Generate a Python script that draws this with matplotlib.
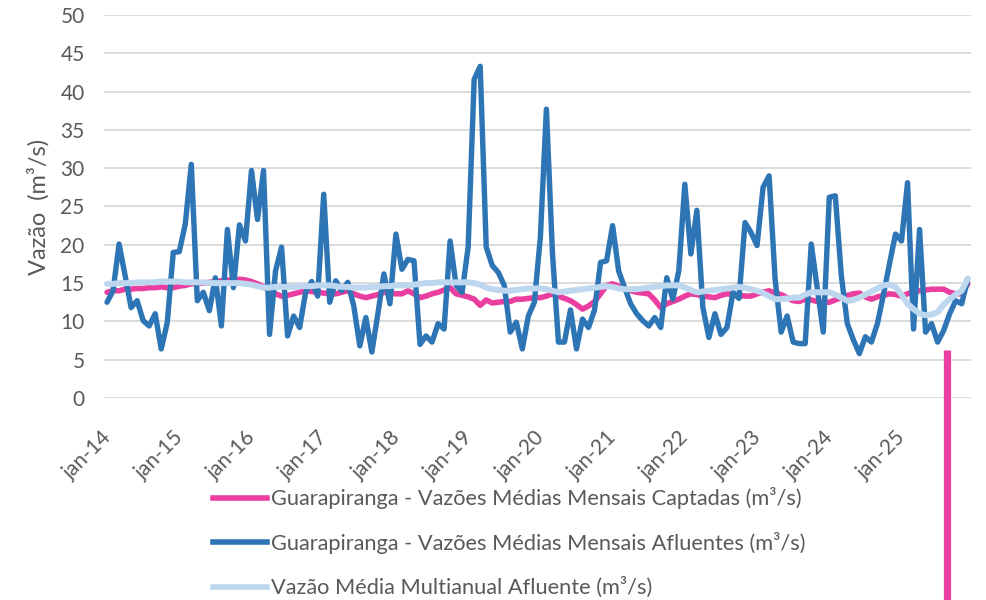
import matplotlib
matplotlib.use("Agg")
import matplotlib.pyplot as plt
from matplotlib.lines import Line2D
from matplotlib.transforms import ScaledTranslation

plt.rcParams['font.family'] = ['Lato', 'DejaVu Sans']

meses_pt = ['jan', 'fev', 'mar', 'abr', 'mai', 'jun', 'jul', 'ago', 'set', 'out', 'nov', 'dez']
anos = list(range(14, 26))
categorias = [f"{m}-{a:02d}" for a in anos for m in meses_pt]

captadas = [
    13.8, 14.0, 14.0, 14.2, 14.2, 14.3, 14.3, 14.4, 14.4, 14.5, 14.4, 14.4,
    14.6, 14.7, 14.9, 15.0, 15.0, 15.1, 15.2, 15.3, 15.4, 15.4, 15.5, 15.4,
    15.2, 14.9, 14.5, 14.0, 13.6, 13.3, 13.4, 13.6, 13.8, 14.0, 13.9, 13.8,
    13.7, 13.6, 13.6, 13.8, 14.0, 13.6, 13.3, 13.1, 13.3, 13.5, 13.8, 13.7,
    13.6, 13.6, 14.0, 13.6, 13.1, 13.3, 13.6, 13.8, 14.1, 14.4, 13.6, 13.4,
    13.2, 12.9, 12.1, 12.8, 12.4, 12.5, 12.6, 12.6, 12.9, 12.9, 13.0, 13.1,
    13.1, 13.3, 13.6, 13.3, 13.0, 12.7, 12.2, 11.6, 12.0, 12.6, 13.6, 14.7,
    14.9, 14.6, 14.2, 14.0, 13.8, 13.7, 13.6, 12.8, 11.8, 12.3, 12.6, 12.9,
    13.3, 13.6, 13.5, 13.3, 13.2, 13.1, 13.4, 13.6, 13.5, 13.4, 13.3, 13.3,
    13.6, 13.8, 14.0, 13.7, 13.5, 13.1, 12.7, 12.6, 12.9, 12.8, 12.6, 12.5,
    12.5, 12.8, 13.1, 13.4, 13.6, 13.7, 13.2, 12.9, 13.2, 13.4, 13.6, 13.5,
    13.3, 13.6, 13.9, 14.0, 14.1, 14.2, 14.2, 14.2, 13.8, 13.6, 13.6, 14.9,
]

afluentes = [
    12.5, 14.0, 20.1, 16.0, 11.8, 12.7, 10.1, 9.4, 11.0, 6.4, 9.8, 19.0,
    19.1, 22.7, 30.5, 12.7, 13.8, 11.4, 15.7, 9.4, 22.0, 14.4, 22.6, 20.5,
    29.7, 23.3, 29.7, 8.3, 16.6, 19.7, 8.1, 10.7, 9.2, 13.8, 15.2, 13.3,
    26.6, 12.5, 15.3, 14.0, 15.1, 12.0, 6.8, 10.5, 6.0, 11.0, 16.2, 12.3,
    21.4, 16.8, 18.1, 17.9, 7.0, 8.1, 7.3, 9.7, 9.0, 20.5, 14.7, 13.8,
    19.7, 41.6, 43.3, 19.7, 17.3, 16.4, 14.7, 8.6, 9.9, 6.4, 10.7, 12.5,
    21.0, 37.7, 19.0, 7.3, 7.3, 11.5, 6.4, 10.3, 9.2, 11.5, 17.7, 17.9,
    22.5, 16.6, 14.4, 12.3, 11.0, 10.1, 9.4, 10.5, 9.2, 15.7, 12.9, 16.6,
    27.9, 18.8, 24.5, 11.8, 7.9, 11.0, 8.3, 9.2, 13.8, 13.0, 22.9, 21.6,
    19.9, 27.5, 29.0, 15.5, 8.6, 10.7, 7.3, 7.1, 7.1, 20.1, 14.3, 8.6,
    26.2, 26.4, 16.0, 9.7, 7.6, 5.8, 8.0, 7.3, 9.7, 13.5, 17.5, 21.4,
    20.5, 28.1, 9.0, 22.0, 8.6, 9.7, 7.3, 8.8, 11.0, 12.7, 12.3, 15.5,
]

media_multianual = [
    14.9, 14.9, 15.0, 15.0, 15.0, 15.1, 15.1, 15.1, 15.1, 15.2, 15.2, 15.2,
    15.2, 15.1, 15.1, 15.1, 15.1, 15.0, 15.0, 15.0, 15.0, 15.0, 15.0, 14.9,
    14.8, 14.6, 14.4, 14.4, 14.5, 14.5, 14.5, 14.5, 14.6, 14.6, 14.6, 14.7,
    14.7, 14.7, 14.6, 14.5, 14.5, 14.4, 14.4, 14.4, 14.5, 14.5, 14.6, 14.6,
    14.7, 14.7, 14.7, 14.8, 14.9, 15.0, 15.0, 15.1, 15.1, 15.1, 15.1, 15.1,
    15.1, 15.0, 14.8, 14.4, 14.2, 14.1, 14.0, 14.0, 14.1, 14.2, 14.3, 14.3,
    14.3, 14.2, 14.0, 13.8, 13.9, 14.0, 14.1, 14.2, 14.3, 14.4, 14.5, 14.6,
    14.5, 14.3, 14.2, 14.2, 14.2, 14.3, 14.4, 14.5, 14.6, 14.7, 14.7, 14.7,
    14.4, 14.1, 13.8, 13.9, 14.0, 14.1, 14.2, 14.3, 14.4, 14.5, 14.4, 14.2,
    14.0, 13.7, 13.3, 12.9, 12.9, 13.0, 13.1, 13.1, 13.5, 13.8, 13.8, 13.8,
    13.8, 13.5, 13.1, 12.7, 12.8, 13.1, 13.5, 13.9, 14.3, 14.7, 14.8, 14.5,
    13.5, 12.3, 11.6, 11.0, 10.8, 10.9, 11.2, 12.2, 12.9, 13.5, 14.0, 15.6,
]

rotulos = [
    'Guarapiranga - Vazões Médias Mensais Captadas (m³/s)',
    'Guarapiranga - Vazões Médias Mensais Afluentes (m³/s)',
    'Vazão Média Multianual Afluente (m³/s)',
]
cores = ['#EA3FA0', '#2E75B6', '#BDD7EE']

marcador_x = 139.6
marcador_topo = 6.3

fig = plt.figure(figsize=(9.86, 6.0), dpi=100)
ax = fig.add_axes([0.1055, 0.3367, 0.879, 0.6383])

x = list(range(len(categorias)))
ax.plot(x, captadas, color=cores[0], lw=4.0, solid_joinstyle='round', solid_capstyle='round', zorder=3)
ax.plot(x, afluentes, color=cores[1], lw=3.9, solid_joinstyle='round', solid_capstyle='round', zorder=4)
ax.plot(x, media_multianual, color=cores[2], lw=4.3, solid_joinstyle='round', solid_capstyle='round', zorder=5)

ax.plot([marcador_x, marcador_x], [marcador_topo, -40], color=cores[0], lw=5.2,
        solid_capstyle='butt', clip_on=False, zorder=6)

ax.set_xlim(-0.5, len(categorias) - 0.5)
ax.set_ylim(0, 50)
ax.set_yticks(range(0, 51, 5))
ax.grid(axis='y', color='#D9D9D9', lw=1.3)
ax.set_axisbelow(True)
for s in ax.spines.values():
    s.set_visible(False)
ax.tick_params(axis='both', length=0, colors='#595959', labelsize=15)
ax.tick_params(axis='y', pad=14)

xt = list(range(0, len(categorias), 12))
ax.set_xticks(xt)
ax.set_xticklabels([categorias[i] for i in xt], rotation=45, ha='right', va='top',
                   fontsize=15, color='#595959')
ax.tick_params(axis='x', pad=21)
desloc = ScaledTranslation(8 / 100, 0, fig.dpi_scale_trans)
for lab in ax.get_xticklabels():
    lab.set_transform(lab.get_transform() + desloc)

ax.set_ylabel('Vazão  (m³/s)', fontsize=17, color='#595959', labelpad=8)

handles = [Line2D([0], [0], color=c, lw=4) for c in cores]
fig.legend(handles, rotulos, loc='upper left', bbox_to_anchor=(0.216, 0.188),
           frameon=False, fontsize=15.7, handlelength=2.5, handletextpad=0.18,
           labelspacing=1.05, labelcolor='#595959', borderpad=0, borderaxespad=0)

fig.savefig('out.png', dpi=100)
